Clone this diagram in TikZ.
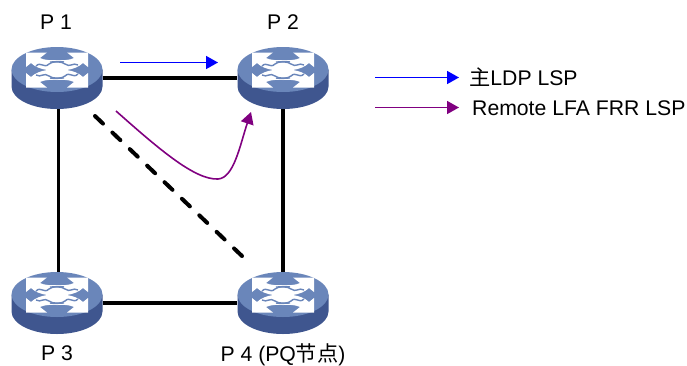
\documentclass[tikz,border=0pt]{standalone}
\usepackage{fontspec}
\setmainfont{Liberation Sans}
\newfontfamily\cjk{Noto Sans CJK SC}
\usetikzlibrary{shapes.geometric,arrows.meta}
\definecolor{rtop}{HTML}{6A86BA}
\definecolor{rside}{HTML}{3F568F}
\definecolor{frrpurple}{HTML}{800080}
\tikzstyle{router}=[ellipse,inner sep=0pt,minimum width=91pt,minimum height=62pt]
\tikzstyle{legend}=[inner sep=0pt,anchor=west,font=\fontsize{21.2}{24}\selectfont]
\tikzstyle{rname}=[inner sep=0pt,font=\fontsize{21.2}{24}\selectfont]
\tikzstyle{link}=[line width=3.6pt,black]
\tikzstyle{fail}=[line width=4pt,line cap=round,dash pattern=on 11pt off 13pt,black]
\tikzstyle{lsp}=[line width=1.6pt,-{Triangle[length=12pt,width=13pt]}]
\tikzstyle{mainlsp}=[lsp,blue]
\tikzstyle{frrlsp}=[lsp,frrpurple]
% icon of one router, drawn round the centre of the node
\newcommand{\routericon}[2]{%
\begin{scope}[shift={(#1,#2)}]
  \fill[rside] (-45.5,-8.5) -- (-45.5,8.5) arc[start angle=180,end angle=0,x radius=45.5,y radius=22.5] -- (45.5,-8.5) -- cycle;
  \fill[rtop] (0,-8.5) ellipse[x radius=45.5,y radius=22.5];
  \begin{scope}[shift={(0,-8)}]
  \foreach \sx/\sy in {1/1,-1/1,1/-1,-1/-1}
    \fill[white,xscale=\sx,yscale=\sy] (31,17.5) -- (31,3) -- (26,7) .. controls (22,3) and (16,1) .. (10,0)
      -- (0,0) -- (0,10) .. controls (7,9.5) and (13,10) .. (17,12) -- (10,17.5) -- cycle;
  \foreach \sx/\sy in {1/1,-1/-1}
    \draw[rtop,line width=1.4pt,xscale=\sx,yscale=\sy] (-21,-4) .. controls (-16,-9) and (-13,-1) .. (-8,-6) .. controls (-5,-8.5) and (2,-9) .. (7,-8);
  \foreach \sx/\sy in {1/1,-1/-1}
    \draw[rtop,line width=1.4pt,xscale=\sx,yscale=\sy] (-21,5) .. controls (-16,8) and (-13,2) .. (-8,6) .. controls (-4,9) and (2,8) .. (7,8);
  \end{scope}
\end{scope}}
\begin{document}
\begin{tikzpicture}[x=1pt,y=-1pt]
\useasboundingbox (0,0) rectangle (687,365);
\foreach \place/\name/\cx/\cy in {{(57,78)/p1/57/78}, {(283,78)/p2/283/78}, {(57,303)/p3/57/303}, {(283,303)/p4/283/303}}{
    \routericon{\cx}{\cy}
    \node[router] (\name) at \place {};
}
\node[rname] (p1label) at (56,22) {P 1};
\node[rname] (p2label) at (283,22) {P 2};
\node[rname] (p3label) at (57,353) {P 3};
\node[rname] (p4label) at (283,355) {P 4 (PQ{\cjk 节点})};

\foreach \source/\dest in {p1/p2, p3/p4}
    \draw[link] (\source) -- (\dest);
\draw[link] ([xshift=1.5pt]p1.south) -- ([xshift=1.5pt]p3.north);
\draw[link] (p2) -- (p4);

\coordinate (failstart) at (95,116);
\coordinate (failend) at (242,256);
\draw[fail] (failstart) -- (failend);

\coordinate (mainstart) at (120,62.5);
\coordinate (mainend) at (218,62.5);
\draw[mainlsp] (mainstart) -- (mainend);
\coordinate (frrstart) at (116,111);
\coordinate (frrend) at (251,112);
\draw[frrlsp] (frrstart) .. controls (160,150) and (195,180) .. (218,179) .. controls (234,178) and (240,145) .. (frrend);

\coordinate (key1start) at (375,77.5);
\coordinate (key1end) at (459,77.5);
\draw[mainlsp] (key1start) -- (key1end);
\coordinate (key2start) at (375,107.5);
\coordinate (key2end) at (459,107.5);
\draw[frrlsp] (key2start) -- (key2end);
\node[legend] (key1) at (469,77) {{\cjk 主}LDP LSP};
\node[legend] (key2) at (472,108.5) {Remote LFA FRR LSP};
\end{tikzpicture}
\end{document}
